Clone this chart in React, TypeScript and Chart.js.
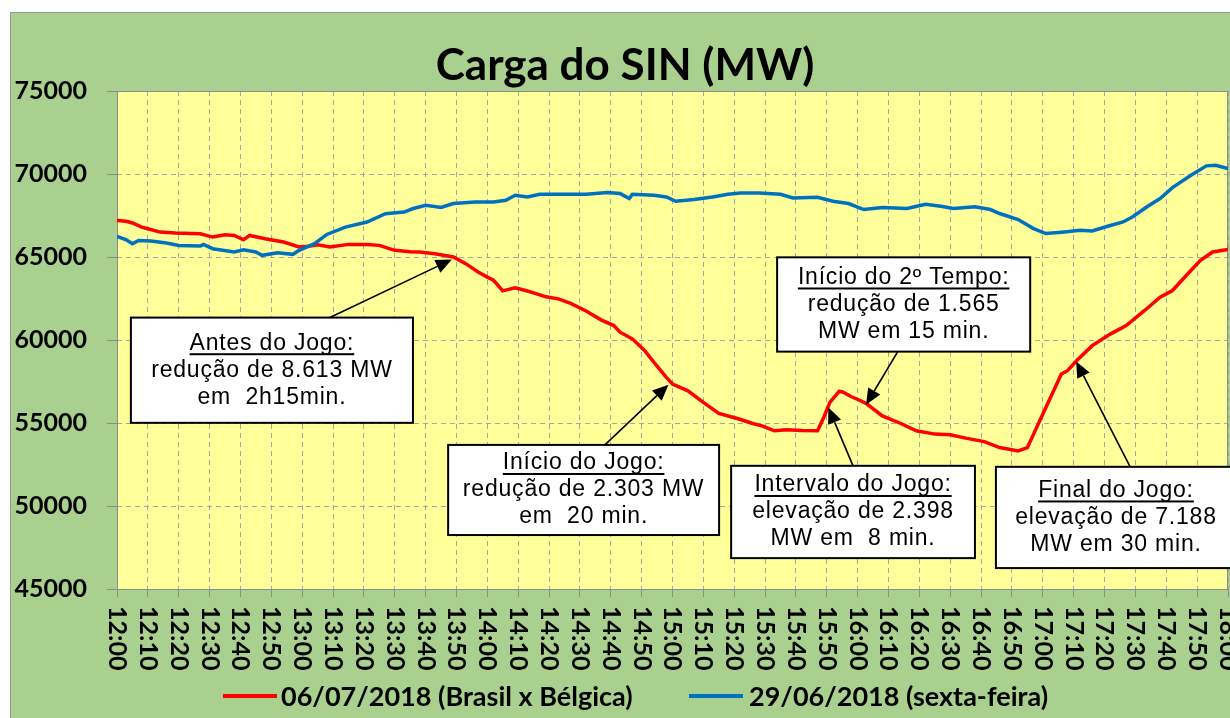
import React, { useEffect, useRef } from "react";
import { Chart, registerables } from "chart.js";

Chart.register(...registerables);

const chartTitle = "Carga do SIN (MW)";
const seriesNames = ["06/07/2018 (Brasil x Bélgica)", "29/06/2018 (sexta-feira)"];
const seriesColors = ["#ff0000", "#0070c0"];

const timeLabels = [
  "12:00", "12:10", "12:20", "12:30", "12:40", "12:50",
  "13:00", "13:10", "13:20", "13:30", "13:40", "13:50",
  "14:00", "14:10", "14:20", "14:30", "14:40", "14:50",
  "15:00", "15:10", "15:20", "15:30", "15:40", "15:50",
  "16:00", "16:10", "16:20", "16:30", "16:40", "16:50",
  "17:00", "17:10", "17:20", "17:30", "17:40", "17:50",
  "18:00",
];

const yMin = 45000;
const yMax = 75000;
const yStep = 5000;

// minutes after 12:00
const redMinutes = [
  0, 3, 5, 8, 10, 14, 19, 24, 27, 31, 35, 38, 41, 43, 48, 54, 59, 62, 65, 69,
  75, 81, 85, 90, 95, 98, 103, 109, 113, 117, 120, 122, 125, 129, 133, 135, 139, 143, 147, 152,
  157, 161, 163, 167, 171, 174, 178, 180, 185, 190, 195, 201, 206, 209, 213, 217, 222, 227, 229, 231,
  234, 235, 238, 241, 243, 248, 254, 259, 265, 270, 275, 281, 286, 292, 295, 297, 299, 302, 306, 308,
  311, 316, 322, 327, 333, 338, 342, 347, 351, 355, 360,
];
const redLoad = [
  67200, 67150, 67050, 66800, 66700, 66500, 66440, 66420, 66400, 66200, 66340, 66300, 66040, 66300, 66100, 65900, 65600, 65650, 65740, 65600,
  65760, 65760, 65700, 65400, 65320, 65300, 65200, 65000, 64600, 64100, 63790, 63600, 62960, 63150, 62950, 62840, 62600, 62480, 62200, 61750,
  61200, 60870, 60470, 60070, 59360, 58650, 57750, 57350, 56940, 56240, 55580, 55270, 54970, 54830, 54530, 54600, 54550, 54530, 55330, 56240,
  56900, 56880, 56580, 56340, 56140, 55430, 54970, 54530, 54330, 54290, 54090, 53880, 53520, 53320, 53520, 54330, 55130, 56340, 57950, 58150,
  58760, 59660, 60370, 60870, 61780, 62580, 62980, 63990, 64790, 65300, 65460,
];

const blueMinutes = [
  0, 3, 5, 7, 11, 16, 20, 27, 28, 31, 38, 41, 45, 47, 52, 57, 59, 64, 68, 74,
  81, 87, 93, 96, 100, 105, 109, 116, 122, 126, 129, 133, 137, 146, 152, 159, 163, 166, 167, 174,
  178, 181, 187, 193, 198, 202, 208, 215, 219, 227, 232, 237, 242, 248, 256, 262, 267, 271, 278, 283,
  286, 292, 297, 301, 307, 312, 316, 321, 326, 329, 334, 338, 342, 348, 353, 356, 360,
];
const blueLoad = [
  66240, 66040, 65800, 66000, 65960, 65840, 65700, 65660, 65760, 65500, 65300, 65440, 65300, 65100, 65260, 65160, 65400, 65800, 66360, 66800,
  67110, 67610, 67710, 67920, 68120, 67980, 68220, 68320, 68320, 68420, 68720, 68620, 68780, 68780, 68780, 68880, 68820, 68520, 68780, 68720,
  68620, 68360, 68460, 68620, 68780, 68860, 68860, 68780, 68560, 68600, 68360, 68220, 67860, 67980, 67920, 68180, 68060, 67920, 68020, 67860,
  67620, 67260, 66710, 66410, 66510, 66610, 66570, 66850, 67110, 67410, 68060, 68520, 69180, 69920, 70490, 70530, 70330,
];

type Note = {
  title: string;
  lines: string[];
  box: [number, number, number, number]; // minute left, minute right, MW top, MW bottom
  base: [number, number];
  tip: [number, number];
};

const notes: Note[] = [
  { title: "Antes do Jogo:", lines: ["redução de 8.613 MW", "em  2h15min."], box: [4.5, 95.9, 61350, 55010], base: [69, 61350], tip: [108.5, 64850] },
  { title: "Início do Jogo:", lines: ["redução de 2.303 MW", "em  20 min."], box: [107.3, 195.1, 53680, 48250], base: [158.1, 53680], tip: [178.7, 57310] },
  { title: "Intervalo do Jogo:", lines: ["elevação de 2.398", "MW em  8 min."], box: [199.0, 278.0, 52420, 46860], base: [238.5, 52420], tip: [230.5, 55940] },
  { title: "Início do 2º Tempo:", lines: ["redução de 1.565", "MW em 15 min."], box: [213.9, 295.9, 64980, 59300], base: [253, 59300], tip: [242.7, 56100] },
  { title: "Final do Jogo:", lines: ["elevação de 7.188", "MW em 30 min."], box: [284.8, 362.6, 52360, 46260], base: [328.3, 52360], tip: [310.8, 58710] },
];

const BOLD_FONT = "Lato, 'Open Sans', sans-serif";
const NOTE_FONT = "'Liberation Sans', Arial, sans-serif";

function drawArrow(ctx: CanvasRenderingContext2D, x1: number, y1: number, x2: number, y2: number) {
  const ang = Math.atan2(y2 - y1, x2 - x1);
  const head = 16;
  const half = 7;
  const bx = x2 - head * Math.cos(ang);
  const by = y2 - head * Math.sin(ang);
  ctx.strokeStyle = "#000";
  ctx.lineWidth = 1.6;
  ctx.beginPath();
  ctx.moveTo(x1, y1);
  ctx.lineTo(bx, by);
  ctx.stroke();
  ctx.fillStyle = "#000";
  ctx.beginPath();
  ctx.moveTo(x2, y2);
  ctx.lineTo(bx + half * Math.sin(ang), by - half * Math.cos(ang));
  ctx.lineTo(bx - half * Math.sin(ang), by + half * Math.cos(ang));
  ctx.closePath();
  ctx.fill();
}

const excelLook = {
  id: "excelLook",
  beforeDraw(chart: any) {
    const { ctx, width, height, chartArea: a } = chart;
    ctx.save();
    ctx.fillStyle = "#a9d08e";
    ctx.fillRect(0, 0, width, height);
    ctx.strokeStyle = "#999999";
    ctx.lineWidth = 1;
    ctx.beginPath();
    ctx.moveTo(0.5, height);
    ctx.lineTo(0.5, 0.5);
    ctx.lineTo(width, 0.5);
    ctx.stroke();
    ctx.fillStyle = "#ffff99";
    ctx.fillRect(a.left, a.top, a.right - a.left, a.bottom - a.top);
    ctx.restore();
  },
  beforeDatasetsDraw(chart: any) {
    const { ctx, chartArea: a } = chart;
    ctx.save();
    ctx.strokeStyle = "#8c8c8c";
    ctx.lineWidth = 1;
    ctx.strokeRect(a.left + 0.5, a.top + 0.5, a.right - a.left - 1, a.bottom - a.top);
    ctx.restore();
  },
  afterDatasetsDraw(chart: any) {
    const { ctx } = chart;
    const xs = chart.scales.x;
    const ys = chart.scales.y;
    ctx.save();
    for (const n of notes) {
      const bx = xs.getPixelForValue(n.base[0]);
      const by = ys.getPixelForValue(n.base[1]);
      const tx = xs.getPixelForValue(n.tip[0]);
      const ty = ys.getPixelForValue(n.tip[1]);
      drawArrow(ctx, bx, by, tx, ty);
    }
    for (const n of notes) {
      const l = xs.getPixelForValue(n.box[0]);
      const r = xs.getPixelForValue(n.box[1]);
      const t = ys.getPixelForValue(n.box[2]);
      const b = ys.getPixelForValue(n.box[3]);
      ctx.fillStyle = "#ffffff";
      ctx.fillRect(l, t, r - l, b - t);
      ctx.strokeStyle = "#000";
      ctx.lineWidth = 2;
      ctx.strokeRect(l, t, r - l, b - t);
      const cx = (l + r) / 2;
      const cy = (t + b) / 2;
      const lh = 27;
      const all = [n.title, ...n.lines];
      ctx.font = `23px ${NOTE_FONT}`;
      (ctx as any).letterSpacing = "0.8px";
      ctx.textAlign = "center";
      ctx.textBaseline = "middle";
      ctx.fillStyle = "#000";
      all.forEach((s, i) => {
        const y = cy + (i - 1) * lh;
        ctx.fillText(s, cx, y);
        if (i === 0) {
          const w = ctx.measureText(s).width;
          ctx.fillRect(cx - w / 2, y + 10, w, 2);
        }
      });
      (ctx as any).letterSpacing = "0px";
    }
    ctx.restore();
  },
  afterDraw(chart: any) {
    const { ctx, width } = chart;
    const xs = chart.scales.x;
    const a = chart.chartArea;
    ctx.save();
    // title
    ctx.fillStyle = "#000";
    ctx.font = `bold 44px ${BOLD_FONT}`;
    ctx.textAlign = "center";
    ctx.textBaseline = "alphabetic";
    ctx.fillText(chartTitle, width / 2, 68);
    // x labels rotated clockwise
    ctx.font = `bold 25px ${BOLD_FONT}`;
    ctx.textAlign = "left";
    ctx.textBaseline = "middle";
    timeLabels.forEach((lab, i) => {
      const x = xs.getPixelForValue(i * 10);
      ctx.save();
      ctx.translate(x, a.bottom + 17);
      ctx.rotate(Math.PI / 2);
      ctx.fillText(lab, 0, 0);
      ctx.restore();
    });
    // legend
    ctx.font = `bold 27px ${BOLD_FONT}`;
    const legendY = 684;
    const items = [
      { x0: 213, x1: 267, tx: 271 },
      { x0: 679, x1: 733, tx: 739 },
    ];
    items.forEach((it, i) => {
      ctx.strokeStyle = seriesColors[i];
      ctx.lineWidth = 4;
      ctx.beginPath();
      ctx.moveTo(it.x0, legendY);
      ctx.lineTo(it.x1, legendY);
      ctx.stroke();
      ctx.fillStyle = "#000";
      ctx.fillText(seriesNames[i], it.tx, legendY + 1);
    });
    ctx.restore();
  },
};

export default function App() {
  const ref = useRef<HTMLCanvasElement | null>(null);

  useEffect(() => {
    if (!ref.current) return;
    const chart = new Chart(ref.current, {
      type: "line",
      data: {
        datasets: [
          {
            label: seriesNames[0],
            data: redMinutes.map((m, i) => ({ x: m, y: redLoad[i] })),
            borderColor: seriesColors[0],
            backgroundColor: seriesColors[0],
            borderWidth: 3.5,
            pointRadius: 0,
            tension: 0,
            order: 1,
          },
          {
            label: seriesNames[1],
            data: blueMinutes.map((m, i) => ({ x: m, y: blueLoad[i] })),
            borderColor: seriesColors[1],
            backgroundColor: seriesColors[1],
            borderWidth: 3.5,
            pointRadius: 0,
            tension: 0,
            order: 0,
          },
        ],
      },
      options: {
        responsive: false,
        animation: false,
        devicePixelRatio: 1,
        layout: { padding: { top: 79, right: 12, bottom: 0, left: 0 } },
        plugins: {
          legend: { display: false },
          title: { display: false },
          tooltip: { enabled: false },
        },
        events: [],
        scales: {
          x: {
            type: "linear",
            min: 0,
            max: 360,
            afterFit: (s: any) => { s.height = 129; },
            ticks: { stepSize: 10, display: false },
            grid: {
              color: "#a6a6a6",
              tickColor: "#8c8c8c",
              tickLength: 8,
              tickBorderDash: [],
              lineWidth: 1,
            },
            border: { display: false, dash: [5, 4] },
          },
          y: {
            type: "linear",
            min: yMin,
            max: yMax,
            afterFit: (s: any) => { s.width = 107; },
            ticks: {
              stepSize: yStep,
              padding: 20,
              color: "#000",
              font: { family: BOLD_FONT, size: 25, weight: "bold" },
              callback: (v: any) => String(v),
            },
            grid: {
              color: "#a6a6a6",
              tickColor: "#8c8c8c",
              tickLength: 10,
              tickBorderDash: [],
              lineWidth: 1,
            },
            border: { display: false, dash: [5, 4] },
          },
        },
      },
      plugins: [excelLook],
    } as any);
    return () => chart.destroy();
  }, []);

  return (
    <div style={{ position: "fixed", left: 0, top: 0, width: 1230, height: 718, overflow: "hidden", background: "#fff" }}>
      <canvas ref={ref} width={1230} height={706} style={{ position: "absolute", left: 10, top: 12 }} />
    </div>
  );
}
